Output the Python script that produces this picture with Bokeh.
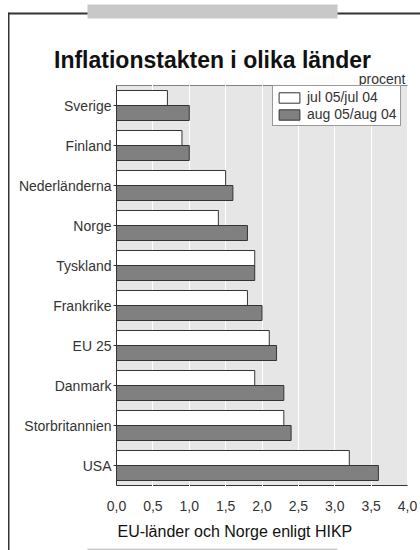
from bokeh.plotting import figure
from bokeh.models import (Range1d, FixedTicker, LinearAxis, Legend, Grid,
                          LegendItem, Label, BoxAnnotation, ColumnDataSource)
from bokeh.transform import dodge
from bokeh.embed import file_html
from bokeh.resources import INLINE

# ---- data ----
countries = ["Sverige", "Finland", "Nederländerna", "Norge", "Tyskland",
             "Frankrike", "EU 25", "Danmark", "Storbritannien", "USA"]
jul_values = [0.7, 0.9, 1.5, 1.4, 1.9, 1.8, 2.1, 1.9, 2.3, 3.2]
aug_values = [1.0, 1.0, 1.6, 1.8, 1.9, 2.0, 2.2, 2.3, 2.4, 3.6]
series_labels = ["jul 05/jul 04", "aug 05/aug 04"]
x_ticks = [0.0, 0.5, 1.0, 1.5, 2.0, 2.5, 3.0, 3.5, 4.0]
x_tick_labels = ["0,0", "0,5", "1,0", "1,5", "2,0", "2,5", "3,0", "3,5", "4,0"]
title_text = "Inflationstakten i olika länder"
unit_text = "procent"
x_axis_text = "EU-länder och Norge enligt HIKP"

# ---- layout constants (pixels) ----
W, H = 420, 550
FL, FR, FT, FB = 116, 407, 85, 485  # plot-area edges on canvas
n = len(countries)
positions = list(range(n - 1, -1, -1))  # Sverige on top

xmin, xmax = x_ticks[0], x_ticks[-1]
px_x = (FR - FL) / (xmax - xmin)
px_y = (FB - FT) / n
ybot, ytop = -0.5, n - 0.5
cut = 1.2 / px_y  # half-length of white cuts through edge lines

SANS = "Liberation Sans"
DARK = "#333333"

src = ColumnDataSource(dict(country=countries, pos=positions,
                            jul=jul_values, aug=aug_values))

# frame covers the whole canvas; ranges chosen so the plot area sits at FL..FR / FT..FB
p = figure(width=W, height=H,
           x_range=Range1d(xmin - FL / px_x, xmax + (W - FR) / px_x),
           y_range=Range1d(ybot - (H - FB) / px_y, ytop + FT / px_y),
           x_axis_location=None, y_axis_location=None,
           output_backend="svg", toolbar_location=None,
           background_fill_color="white", border_fill_color="white",
           outline_line_color=None)
p.min_border = 0
p.center = [r for r in p.center if not isinstance(r, Grid)]

# plot-area background with grey right border
p.add_layout(BoxAnnotation(left=xmin, right=xmax, bottom=ybot, top=ytop,
                           fill_color="#e6e6e6", fill_alpha=1,
                           line_color="#999999", line_width=1, level="image"))

# white vertical grid lines
p.add_layout(Grid(dimension=0, ticker=FixedTicker(ticks=x_ticks),
                  grid_line_color="white", grid_line_width=1,
                  cross_bounds=(ybot, ytop)))

r1 = p.hbar(y=dodge("pos", 0.1875), left=0, right="jul",
            height=0.375, fill_color="white", line_color=DARK, line_width=1,
            source=src)
r2 = p.hbar(y=dodge("pos", -0.1875), left=0, right="aug",
            height=0.375, fill_color="#808080", line_color=DARK, line_width=1,
            source=src)

# top edge line of plot area
p.add_layout(BoxAnnotation(left=xmin, right=xmax, bottom=ytop, top=ytop,
                           fill_alpha=0, line_color=DARK, line_width=1,
                           level="annotation"))

# x axis (bottom edge of plot area)
xa = LinearAxis(fixed_location=ybot, bounds=(xmin, xmax),
                ticker=FixedTicker(ticks=x_ticks),
                major_label_overrides=dict(zip(x_ticks, x_tick_labels)),
                major_tick_line_color=None, minor_tick_line_color=None,
                axis_line_color=DARK,
                major_label_text_font=SANS, major_label_text_font_size="14px",
                major_label_text_color=DARK, major_label_standoff=9)
p.add_layout(xa, "below")

# y axis (category labels)
ya = LinearAxis(fixed_location=xmin, bounds=(ybot, ytop),
                ticker=FixedTicker(ticks=positions),
                major_label_overrides=dict(zip(positions, countries)),
                axis_line_color=DARK, major_tick_out=3, major_tick_in=0,
                major_tick_line_color=DARK, minor_tick_line_color=None,
                major_label_standoff=2,
                major_label_text_font=SANS, major_label_text_font_size="14px",
                major_label_text_color=DARK)
p.add_layout(ya, "left")

# short white cuts where grid lines cross the top and bottom edge lines
for edge in (ytop, ybot):
    p.add_layout(Grid(dimension=0, ticker=FixedTicker(ticks=x_ticks[1:-1]),
                      grid_line_color="white", grid_line_width=1,
                      cross_bounds=(edge - cut, edge + cut), level="overlay"))

# legend
legend = Legend(items=[LegendItem(label=series_labels[0], renderers=[r1]),
                       LegendItem(label=series_labels[1], renderers=[r2])],
                location=(272, H - 126),
                border_line_color=DARK, border_line_width=1,
                background_fill_color="white", background_fill_alpha=1,
                label_text_font=SANS, label_text_font_size="14px",
                label_text_color=DARK,
                glyph_width=26, glyph_height=13, label_height=13,
                padding=3, spacing=1, margin=0, label_standoff=5)
p.add_layout(legend)

# texts (screen units, origin bottom-left of canvas)
p.add_layout(Label(x=212, y=H - 59, x_units="screen", y_units="screen",
                   text=title_text, text_align="center", text_baseline="alphabetic",
                   text_font=SANS, text_font_size="23px",
                   text_font_style="bold", text_color="#111111"))
p.add_layout(Label(x=405, y=H - 78, x_units="screen", y_units="screen",
                   text=unit_text, text_align="right", text_baseline="alphabetic",
                   text_font=SANS, text_font_size="14px", text_color=DARK))
p.add_layout(Label(x=117, y=H - 531, x_units="screen", y_units="screen",
                   text=x_axis_text, text_align="left", text_baseline="alphabetic",
                   text_font=SANS, text_font_size="16px", text_color="#111111"))


def box(x0, x1, y0, y1, color):
    p.add_layout(BoxAnnotation(left=x0, right=x1, top=H - y0, bottom=H - y1,
                               left_units="screen", right_units="screen",
                               top_units="screen", bottom_units="screen",
                               fill_color=color, fill_alpha=1, line_color=None,
                               level="overlay"))


# decorative frame
box(87, 337, 4, 18, "#c8c8c8")
box(8, 87, 12, 14, DARK)
box(337, 420, 12, 14, DARK)
box(7.5, 9, 12, 550, DARK)
box(87, 337, 548, 550, "#cccccc")

open("out.html", "w").write(file_html(p, INLINE))
